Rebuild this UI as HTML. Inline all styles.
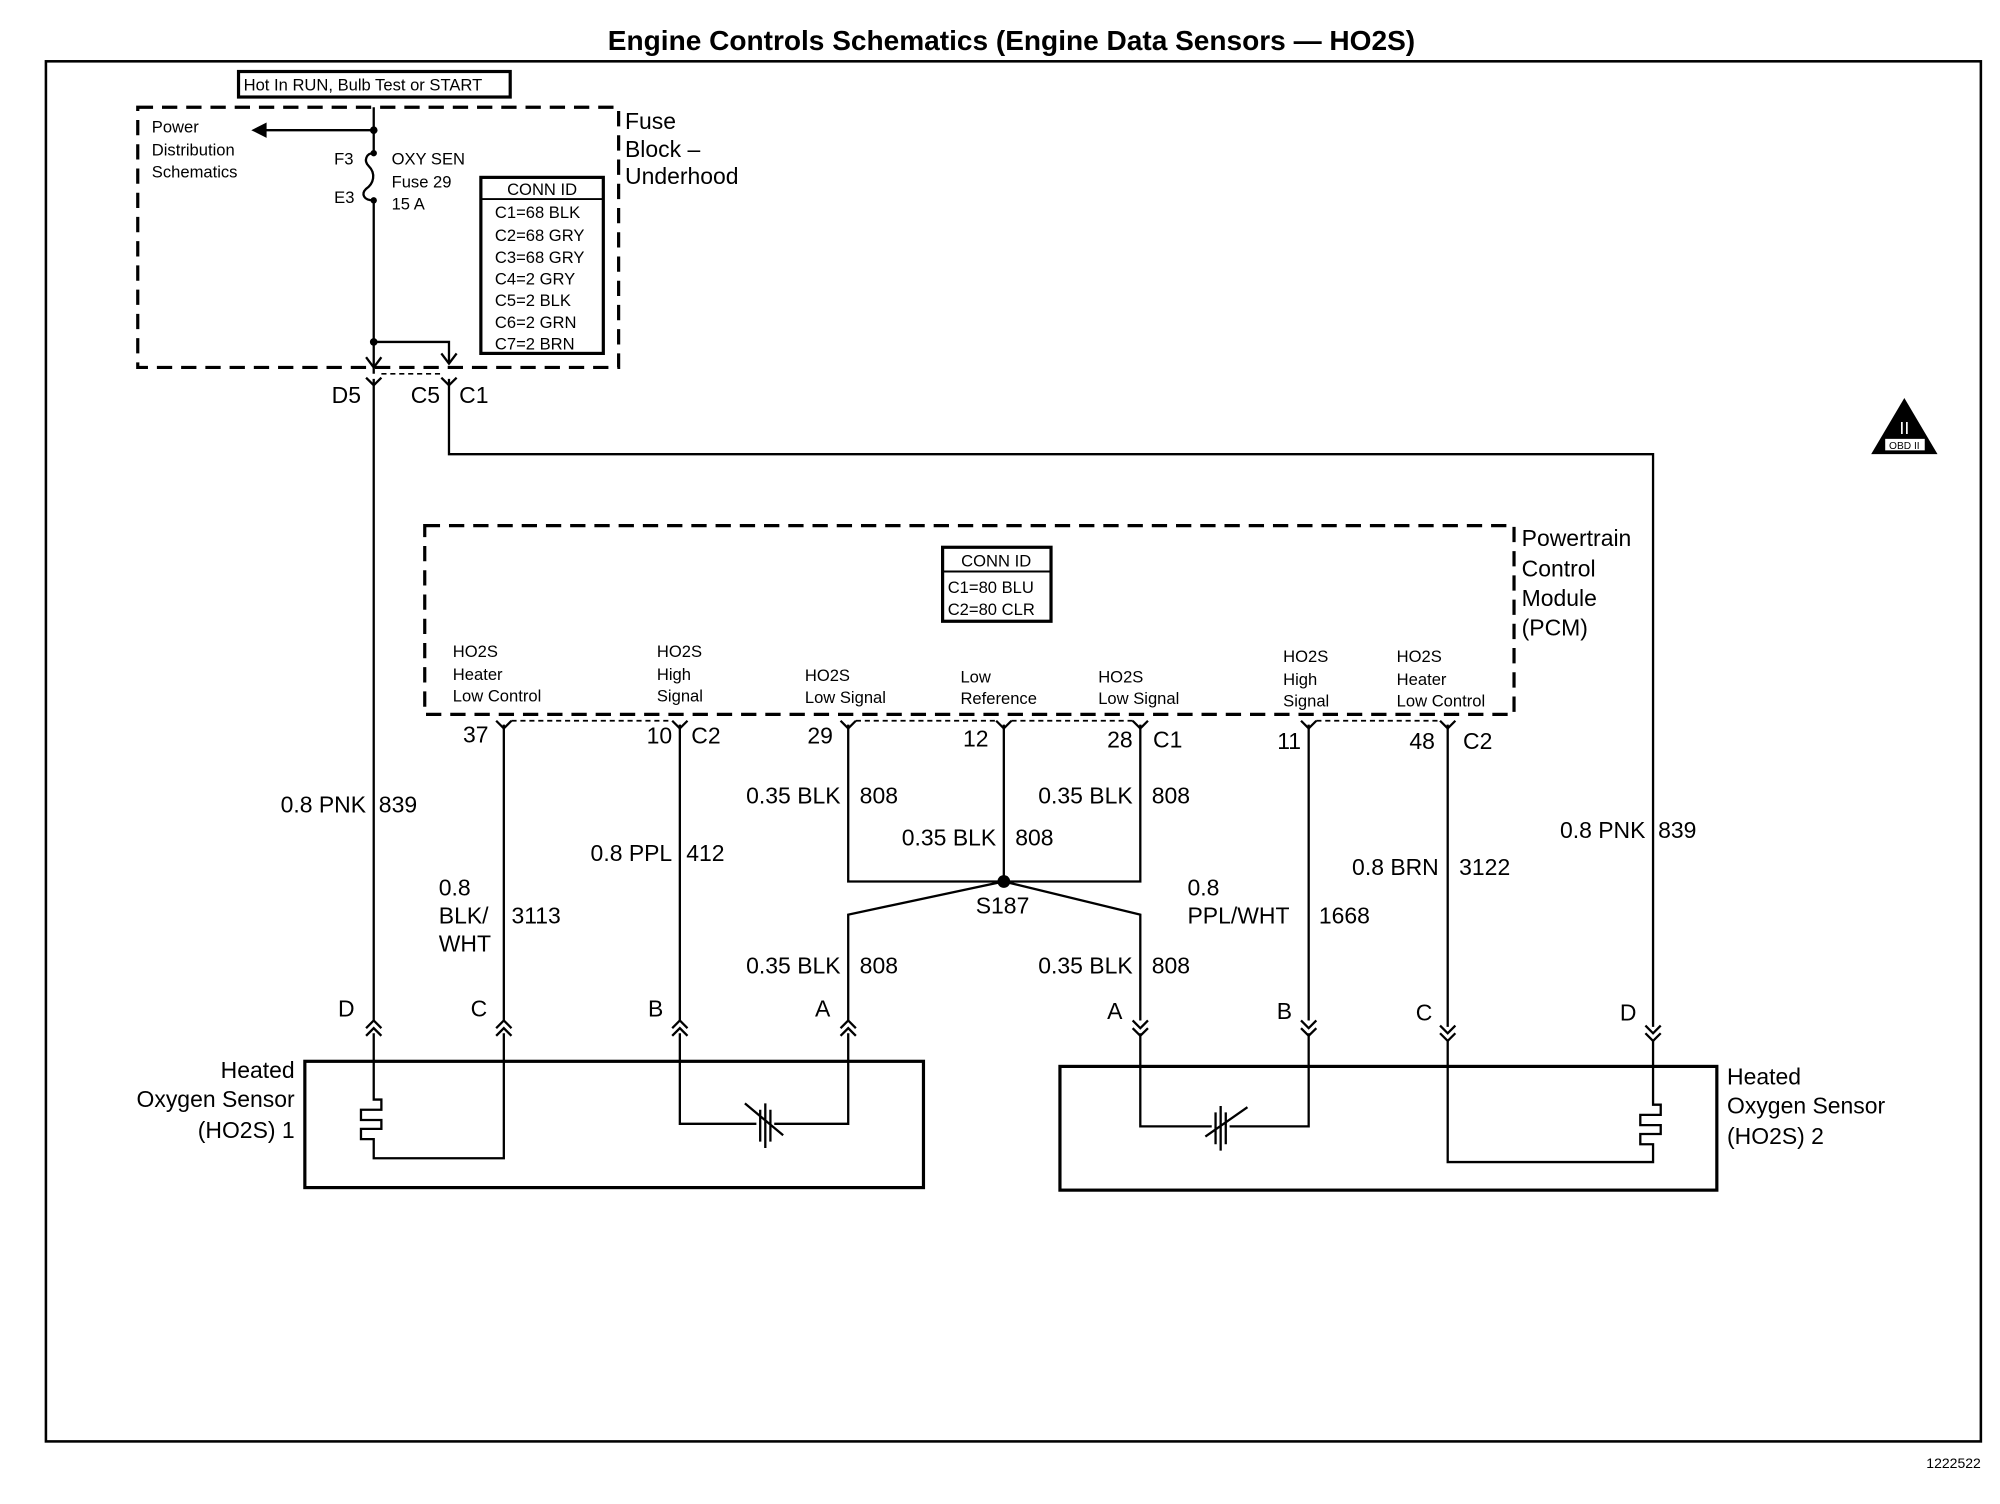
<!DOCTYPE html>
<html><head><style>html,body{margin:0;padding:0;background:#fff}svg{display:block}text{font-family:"Liberation Sans",Arial,sans-serif;fill:#000}</style></head>
<body>
<svg width="2000" height="1504" viewBox="0 0 1568 1179" xmlns="http://www.w3.org/2000/svg">
<g fill="none" stroke="#000">
<rect x="36" y="48" width="1517" height="1082" stroke-width="2"/>
<rect x="187" y="56" width="213" height="20" stroke-width="2.5"/>
<rect x="108" y="84" width="377" height="204" stroke-width="2.5" stroke-dasharray="12,7"/>
<rect x="333" y="412" width="854" height="148" stroke-width="2.5" stroke-dasharray="12,7"/>
<rect x="377" y="139" width="96" height="138" stroke-width="2.5"/>
<line x1="377" y1="156" x2="473" y2="156" stroke-width="1.5"/>
<rect x="739" y="429" width="85" height="58" stroke-width="2.5"/>
<line x1="739" y1="448" x2="824" y2="448" stroke-width="1.5"/>
<rect x="239" y="832" width="485" height="99" stroke-width="2.5"/>
<rect x="831" y="836" width="515" height="97" stroke-width="2.5"/>
<g stroke-width="1.8">
<path d="M293 84V120M293 157V293"/>
<path d="M293 120c-6 0-8 6-4 10c6 6 4 14-2 18c-4 4-2 9 6 9"/>
<path d="M293 102H205"/>
<path d="M293 268H352V284"/>
<path d="M287 280l6 8 6-8M346 277l6 8 6-8"/>
<path d="M293 297V800M352 297V356H1296V805"/>
<path d="M287 296l6 6 6-6M346 296l6 6 6-6"/>
<path d="M395 568V800M533 568V800M665 568V691H894V568M787 568V691M665 800V717L787 691L894 717V800M1026 568V800M1135 568V805"/>
<path d="M389 565l6 6 6-6M527 565l6 6 6-6M659 565l6 6 6-6M781 565l6 6 6-6M888 565l6 6 6-6M1020 565l6 6 6-6M1129 565l6 6 6-6"/>
<path d="M287 806l6-6 6 6M287 812l6-6 6 6M389 806l6-6 6 6M389 812l6-6 6 6M527 806l6-6 6 6M527 812l6-6 6 6M659 806l6-6 6 6M659 812l6-6 6 6"/>
<path d="M888 800l6 6 6-6M888 806l6 6 6-6M1020 800l6 6 6-6M1020 806l6 6 6-6M1129 804l6 6 6-6M1129 810l6 6 6-6M1290 804l6 6 6-6M1290 810l6 6 6-6"/>
<path d="M293 810V862H299V870H283V878H299V885H283V893H293V908H395V810"/>
<path d="M533 810V881H593M607 881H665V810"/>
<path d="M596 870V895M600 865V900M604 870V895M584 865L614 890"/>
<path d="M894 810V883H950M964 883H1026V810"/>
<path d="M953 872V897M957 867V902M961 872V897M945 891L978 868"/>
<path d="M1296 815V866H1302V874H1286V882H1302V889H1286V897H1296V911H1135V815"/>
</g>
<g stroke-width="1.3" stroke-dasharray="4,3">
<path d="M299 293H346M401 565H527M671 565H781M793 565H888M1032 565H1129"/>
</g>
</g>
<path d="M197 102l12-6v12z"/>
<circle cx="293" cy="102" r="3"/><circle cx="293" cy="268" r="3"/>
<circle cx="293" cy="120" r="2.5"/><circle cx="293" cy="157" r="2.5"/>
<circle cx="787" cy="691" r="5"/>
<path d="M1493 312L1519 356H1467Z"/>
<text x="1493" y="340" font-size="14" text-anchor="middle" style="fill:#fff">II</text>
<rect x="1478" y="344" width="31" height="9" fill="#fff"/>
<text x="1493" y="352" font-size="8" text-anchor="middle">OBD II</text>
<text x="793" y="39" font-size="22" font-weight="bold" text-anchor="middle">Engine Controls Schematics (Engine Data Sensors — HO2S)</text>
<text x="1553" y="1151" font-size="11" text-anchor="end">1222522</text>
<g font-size="13">
<text x="191" y="71">Hot In RUN, Bulb Test or START</text>
<text x="119" y="104">Power</text><text x="119" y="122">Distribution</text><text x="119" y="139">Schematics</text>
<text x="262" y="129">F3</text><text x="262" y="159">E3</text>
<text x="307" y="129">OXY SEN</text><text x="307" y="147">Fuse 29</text><text x="307" y="164">15 A</text>
<text x="425" y="153" text-anchor="middle">CONN ID</text>
<text x="388" y="171">C1=68 BLK</text><text x="388" y="189">C2=68 GRY</text><text x="388" y="206">C3=68 GRY</text><text x="388" y="223">C4=2 GRY</text><text x="388" y="240">C5=2 BLK</text><text x="388" y="257">C6=2 GRN</text><text x="388" y="274">C7=2 BRN</text>
<text x="781" y="444" text-anchor="middle">CONN ID</text>
<text x="743" y="465">C1=80 BLU</text><text x="743" y="482">C2=80 CLR</text>
<text x="355" y="515">HO2S</text><text x="355" y="533">Heater</text><text x="355" y="550">Low Control</text>
<text x="515" y="515">HO2S</text><text x="515" y="533">High</text><text x="515" y="550">Signal</text>
<text x="631" y="534">HO2S</text><text x="631" y="551">Low Signal</text>
<text x="753" y="535">Low</text><text x="753" y="552">Reference</text>
<text x="861" y="535">HO2S</text><text x="861" y="552">Low Signal</text>
<text x="1006" y="519">HO2S</text><text x="1006" y="537">High</text><text x="1006" y="554">Signal</text>
<text x="1095" y="519">HO2S</text><text x="1095" y="537">Heater</text><text x="1095" y="554">Low Control</text>
</g>
<g font-size="18">
<text x="490" y="101">Fuse</text><text x="490" y="123">Block –</text><text x="490" y="144">Underhood</text>
<text x="1193" y="428">Powertrain</text><text x="1193" y="452">Control</text><text x="1193" y="475">Module</text><text x="1193" y="498">(PCM)</text>
<text x="283" y="316" text-anchor="end">D5</text><text x="345" y="316" text-anchor="end">C5</text><text x="360" y="316">C1</text>
<text x="383" y="582" text-anchor="end">37</text><text x="527" y="583" text-anchor="end">10</text><text x="542" y="583">C2</text>
<text x="653" y="583" text-anchor="end">29</text><text x="775" y="585" text-anchor="end">12</text>
<text x="888" y="586" text-anchor="end">28</text><text x="904" y="586">C1</text>
<text x="1020" y="587" text-anchor="end">11</text><text x="1125" y="587" text-anchor="end">48</text><text x="1147" y="587">C2</text>
<text x="287" y="637" text-anchor="end">0.8 PNK</text><text x="297" y="637">839</text>
<text x="344" y="702">0.8</text><text x="344" y="724">BLK/</text><text x="344" y="746">WHT</text><text x="401" y="724">3113</text>
<text x="527" y="675" text-anchor="end">0.8 PPL</text><text x="538" y="675">412</text>
<text x="659" y="630" text-anchor="end">0.35 BLK</text><text x="674" y="630">808</text>
<text x="781" y="663" text-anchor="end">0.35 BLK</text><text x="796" y="663">808</text>
<text x="888" y="630" text-anchor="end">0.35 BLK</text><text x="903" y="630">808</text>
<text x="765" y="716">S187</text>
<text x="659" y="763" text-anchor="end">0.35 BLK</text><text x="674" y="763">808</text>
<text x="888" y="763" text-anchor="end">0.35 BLK</text><text x="903" y="763">808</text>
<text x="931" y="702">0.8</text><text x="931" y="724">PPL/WHT</text><text x="1034" y="724">1668</text>
<text x="1128" y="686" text-anchor="end">0.8 BRN</text><text x="1144" y="686">3122</text>
<text x="1290" y="657" text-anchor="end">0.8 PNK</text><text x="1300" y="657">839</text>
<text x="265" y="797">D</text><text x="369" y="797">C</text><text x="508" y="797">B</text><text x="639" y="797">A</text>
<text x="868" y="799">A</text><text x="1001" y="799">B</text><text x="1110" y="800">C</text><text x="1270" y="800">D</text>
<text x="231" y="845" text-anchor="end">Heated</text><text x="231" y="868" text-anchor="end">Oxygen Sensor</text><text x="231" y="892" text-anchor="end">(HO2S) 1</text>
<text x="1354" y="850">Heated</text><text x="1354" y="873">Oxygen Sensor</text><text x="1354" y="897">(HO2S) 2</text>
</g>
</svg>
</body></html>
